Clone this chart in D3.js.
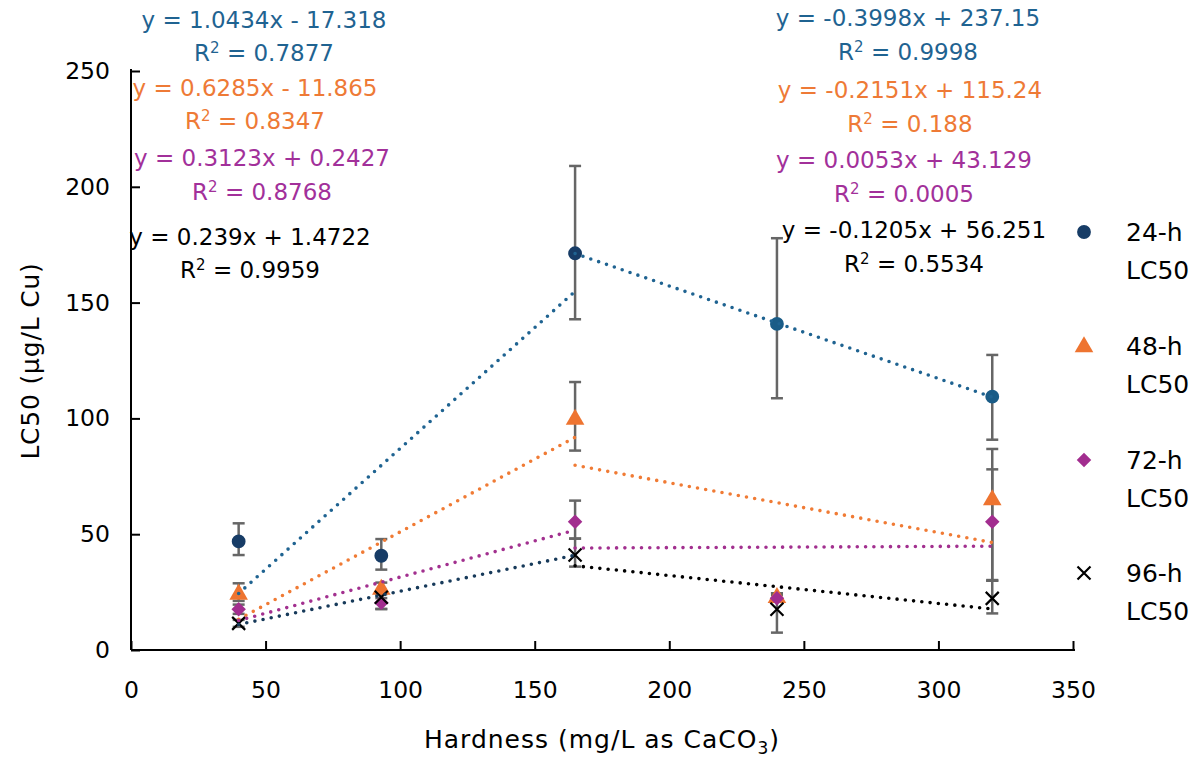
<!DOCTYPE html>
<html><head><meta charset="utf-8">
<script src="https://cdn.jsdelivr.net/npm/d3@7"></script>
<style>
html,body{margin:0;padding:0;background:#fff;}
svg text{font-family:"DejaVu Sans","Liberation Sans",sans-serif;}
</style></head>
<body><svg id="chart" width="1199" height="759"></svg>
<script>
// ---- data ----
const hardness = [40, 93, 165, 240, 320];
const seriesNames = ["24-h", "48-h", "72-h", "96-h"];
const lc24 = [46.9, 40.7, 171.3, 140.8, 109.4];
const lc24Plus = [7.8, 7.2, 37.7, 37.0, 18.0];
const lc24Minus = [5.9, 6.0, 28.5, 32.1, 18.6];
const lc48 = [24.5, 26.6, 100.0, 23.0, 65.2];
const lc48Plus = [4.3, 2.5, 15.7, 1.5, 21.6];
const lc48Minus = [3.3, 2.5, 13.9, 1.5, 35.3];
const lc72 = [17.6, 20.4, 55.4, 22.3, 55.4];
const lc72Plus = [2.0, 2.0, 9.1, 1.5, 22.6];
const lc72Minus = [2.0, 2.7, 7.3, 1.5, 25.2];
const lc96 = [11.5, 22.8, 41.0, 17.6, 22.3];
const lc96Plus = [1.5, 2.0, 7.1, 6.9, 7.6];
const lc96Minus = [1.5, 5.1, 5.0, 10.1, 6.5];
// piecewise linear trendlines (left: 40-165, right: 165-320)
const leftRange = [40, 165];
const rightRange = [165, 320];
const leftSlope = [1.0434, 0.6285, 0.3123, 0.239];
const leftIntercept = [-17.318, -11.865, 0.2427, 1.4722];
const rightSlope = [-0.3998, -0.2151, 0.0053, -0.1205];
const rightIntercept = [237.15, 115.24, 43.129, 56.251];
const leftEq = ["y = 1.0434x - 17.318", "y = 0.6285x - 11.865", "y = 0.3123x + 0.2427", "y = 0.239x + 1.4722"];
const leftR2 = ["0.7877", "0.8347", "0.8768", "0.9959"];
const rightEq = ["y = -0.3998x + 237.15", "y = -0.2151x + 115.24", "y = 0.0053x + 43.129", "y = -0.1205x + 56.251"];
const rightR2 = ["0.9998", "0.188", "0.0005", "0.5534"];
const xTicks = [0, 50, 100, 150, 200, 250, 300, 350];
const yTicks = [0, 50, 100, 150, 200, 250];

// ---- styles ----
const markerColor = ["#173c66", "#ee7430", "#a22d8f", "#000000"];
const markerColorRight = ["#1a5c87", "#ee7430", "#a22d8f", "#000000"];
const trendLeftColor = ["#1f6391", "#f07b35", "#a2308f", "#173a5a"];
const trendRightColor = ["#1f6391", "#f07b35", "#a2308f", "#000000"];
const textColor = ["#1f6391", "#ee7a36", "#a2309a", "#000000"];

const svg = d3.select("#chart");
const x = d3.scaleLinear().domain([0, 350]).range([131, 1073]);
const y = d3.scaleLinear().domain([0, 250]).range([650, 71]);

// axes
const xAxis = d3.axisBottom(x).tickValues(xTicks).tickSizeInner(-9).tickSizeOuter(0).tickPadding(31);
const gx = svg.append("g").attr("transform", "translate(0,650)").call(xAxis);
const yAxis = d3.axisLeft(y).tickValues(yTicks).tickSizeInner(-9).tickSizeOuter(0).tickPadding(21);
const gy = svg.append("g").attr("transform", "translate(131,0)").call(yAxis);
[gx, gy].forEach(g => {
  g.select(".domain").attr("stroke", "#000").attr("stroke-width", 2);
  g.selectAll(".tick line").attr("stroke", "#000").attr("stroke-width", 2);
  g.selectAll(".tick text").attr("font-size", 23.5).attr("fill", "#000")
    .attr("font-family", "'DejaVu Sans', sans-serif");
});
gx.select(".domain").attr("d", `M131,0H1075`);
gy.select(".domain").attr("d", `M0,650V69`);
gx.selectAll(".tick text").attr("dy", "0.71em");

// axis titles
const xt = svg.append("text").attr("x", 602).attr("y", 748).attr("text-anchor", "middle")
  .attr("font-size", 25).attr("letter-spacing", 1.0).attr("fill", "#000");
xt.append("tspan").text("Hardness (mg/L as CaCO");
xt.append("tspan").attr("font-size", 17).attr("dy", 6).text("3");
xt.append("tspan").attr("dy", -6).text(")");
svg.append("text").attr("transform", "translate(39,361) rotate(-90)").attr("text-anchor", "middle")
  .attr("font-size", 25).attr("letter-spacing", 0.8).attr("fill", "#000").text("LC50 (µg/L Cu)");

const values = [lc24, lc48, lc72, lc96];
const plus = [lc24Plus, lc48Plus, lc72Plus, lc96Plus];
const minus = [lc24Minus, lc48Minus, lc72Minus, lc96Minus];

// error bars
const eb = svg.append("g").attr("stroke", "#666").attr("stroke-width", 2.5).attr("fill", "none");
values.forEach((vals, s) => {
  vals.forEach((v, i) => {
    const cx = x(hardness[i]);
    const top = y(v + plus[s][i]), bot = y(v - minus[s][i]);
    eb.append("line").attr("x1", cx).attr("x2", cx).attr("y1", top).attr("y2", bot);
    eb.append("line").attr("x1", cx - 6).attr("x2", cx + 6).attr("y1", top).attr("y2", top);
    eb.append("line").attr("x1", cx - 6).attr("x2", cx + 6).attr("y1", bot).attr("y2", bot);
  });
});

// markers
const symCircle = d3.symbol().type(d3.symbolCircle).size(150);
const symTri = d3.symbol().type(d3.symbolTriangle).size(150);
const symDiamond = d3.symbol().type(d3.symbolSquare).size(105);
function drawMarker(g, s, cx, cy, color) {
  if (s === 0) g.append("path").attr("d", symCircle()).attr("transform", `translate(${cx},${cy})`).attr("fill", color);
  else if (s === 1) g.append("path").attr("d", symTri()).attr("transform", `translate(${cx},${cy + 1})`).attr("fill", color);
  else if (s === 2) g.append("path").attr("d", symDiamond()).attr("transform", `translate(${cx},${cy}) rotate(45)`).attr("fill", color);
  else {
    const r = 6.5;
    g.append("path").attr("d", `M${cx - r},${cy - r}L${cx + r},${cy + r}M${cx - r},${cy + r}L${cx + r},${cy - r}`)
      .attr("stroke", color).attr("stroke-width", 2.2).attr("fill", "none");
  }
}
const mg = svg.append("g");
values.forEach((vals, s) => {
  vals.forEach((v, i) => {
    drawMarker(mg, s, x(hardness[i]), y(v), i >= 3 ? markerColorRight[s] : markerColor[s]);
  });
});

// trendlines (dotted)
const tg = svg.append("g").attr("fill", "none").attr("stroke-linecap", "round")
  .attr("stroke-width", 3.6).attr("stroke-dasharray", "0 8.3");
[0, 1, 2, 3].forEach(s => {
  const lf = h => leftSlope[s] * h + leftIntercept[s];
  const rf = h => rightSlope[s] * h + rightIntercept[s];
  tg.append("line").attr("x1", x(leftRange[0])).attr("y1", y(lf(leftRange[0])))
    .attr("x2", x(leftRange[1])).attr("y2", y(lf(leftRange[1]))).attr("stroke", trendLeftColor[s]);
  tg.append("line").attr("x1", x(rightRange[0])).attr("y1", y(rf(rightRange[0])))
    .attr("x2", x(rightRange[1])).attr("y2", y(rf(rightRange[1]))).attr("stroke", trendRightColor[s]);
});

// equation labels
const leftEqX = [264, 255, 262, 250];
const rightEqX = [908, 910, 904, 914];
const eqY = [[20, 53], [88, 121], [158, 192], [237, 270]];
const eqYR = [[18, 52], [90, 124], [160, 194], [230, 264]];
function eqLabel(cx, cy, str, color) {
  svg.append("text").attr("x", cx).attr("y", cy).attr("dy", "0.36em").attr("text-anchor", "middle")
    .attr("font-size", 23).attr("fill", color).text(str);
}
function r2Label(cx, cy, val, color) {
  const t = svg.append("text").attr("x", cx).attr("y", cy).attr("dy", "0.36em").attr("text-anchor", "middle")
    .attr("font-size", 23).attr("fill", color);
  t.append("tspan").text("R");
  t.append("tspan").attr("font-size", 15).attr("dy", "-0.55em").text("2");
  t.append("tspan").attr("dy", "0.36em").text(" = " + val);
}
[0, 1, 2, 3].forEach(s => {
  eqLabel(leftEqX[s], eqY[s][0], leftEq[s], textColor[s]);
  r2Label(leftEqX[s], eqY[s][1], leftR2[s], textColor[s]);
  eqLabel(rightEqX[s], eqYR[s][0], rightEq[s], textColor[s]);
  r2Label(rightEqX[s], eqYR[s][1], rightR2[s], textColor[s]);
});

// legend
const legY = [232, 346, 460, 573];
const lg = svg.append("g");
seriesNames.forEach((n, s) => {
  drawMarker(lg, s, 1084, legY[s], markerColor[s]);
  lg.append("text").attr("x", 1126).attr("y", legY[s]).attr("dy", "0.36em").attr("font-size", 25).attr("fill", "#000").text(n);
  lg.append("text").attr("x", 1126).attr("y", legY[s] + 38).attr("dy", "0.36em").attr("font-size", 25).attr("fill", "#000").text("LC50");
});
</script></body></html>
